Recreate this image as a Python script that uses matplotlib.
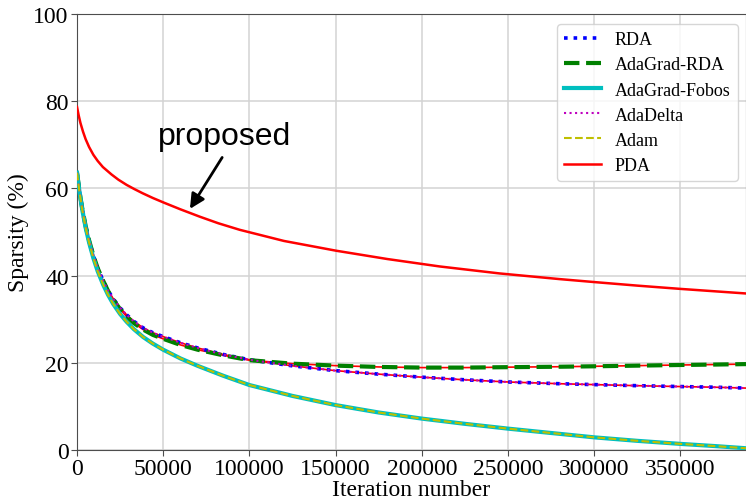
import matplotlib
matplotlib.use("Agg")
import matplotlib.pyplot as plt

iters = [0, 1500, 3000, 5000, 7000, 9500, 12000, 15200, 18000, 21000, 25000,
         28800, 33000, 38400, 44000, 50000, 60000, 70000, 85000, 100000,
         125000, 150000, 175000, 200000, 225000, 250000, 280000, 300000,
         325000, 350000, 370000, 388000]

rda = [63.6, 59.2, 55.5, 51.4, 48.1, 44.6, 41.7, 38.8, 36.6, 34.7, 32.6,
       31.0, 29.5, 28.0, 26.9, 26.0, 24.6, 23.4, 21.9, 20.7,
       19.3, 18.2, 17.4, 16.7, 16.1, 15.6, 15.2, 15.0,
       14.75, 14.55, 14.4, 14.2]
agrda = [63.6, 59.2, 55.5, 51.4, 48.1, 44.6, 41.7, 38.8, 36.5, 34.5, 32.3,
         30.6, 29.1, 27.6, 26.4, 25.5, 24.1, 23.0, 21.7, 20.6,
         19.8, 19.35, 19.05, 18.9, 18.9, 19.0, 19.1, 19.2,
         19.35, 19.5, 19.6, 19.7]
fobos = [63.6, 59.0, 55.2, 51.0, 47.6, 44.0, 41.0, 37.9, 35.6, 33.5, 31.2,
         29.4, 27.7, 25.9, 24.4, 23.0, 21.0, 19.3, 17.0, 14.9,
         12.4, 10.3, 8.6, 7.2, 6.0, 4.9, 3.7, 2.9,
         2.1, 1.4, 0.9, 0.4]

# PDA (proposed)
pda_x = [0, 1000, 2000, 3500, 5000, 7000, 9500, 12000, 15000, 20000, 24000,
         28800, 33000, 38000, 44000, 50600, 60000, 71300, 82000, 94400,
         120000, 150400, 180000, 210300, 245000, 279800, 300500, 325000,
         350000, 388000]
pda_y = [78.7, 76.7, 75.0, 73.0, 71.3, 69.5, 67.7, 66.3, 64.9, 63.2, 62.0,
         60.8, 59.9, 58.9, 57.8, 56.7, 55.2, 53.5, 52.0, 50.5,
         47.95, 45.7, 43.8, 42.1, 40.5, 39.2, 38.5, 37.7,
         36.95, 35.9]

plt.rcParams['font.family'] = ['Liberation Serif', 'DejaVu Serif']

fig = plt.figure(figsize=(7.46, 5.02), dpi=100)
ax = fig.add_axes([77 / 746, 51 / 502, 669 / 746, 436 / 502])

# thin red traces beneath the RDA curves
ax.plot(iters, rda, color='red', lw=1.2, zorder=2)
ax.plot(iters, agrda, color='red', lw=1.2, zorder=2)

ax.plot(iters, rda, color='blue', ls=':', lw=2.6, label='RDA', zorder=3)
ax.plot(iters, agrda, color='green', ls='--', lw=3, label='AdaGrad-RDA', zorder=3)
ax.plot(iters, fobos, color='c', ls='-', lw=3, label='AdaGrad-Fobos', zorder=3)
ax.plot(iters, rda, color='m', ls=':', lw=1.5, label='AdaDelta', zorder=4)
ax.plot(iters, fobos, color='y', ls='--', lw=1.5, label='Adam', zorder=4)
ax.plot(pda_x, pda_y, color='red', lw=1.8, label='PDA', zorder=4)

ax.set_xlim(0, 388000)
ax.set_ylim(0, 100)
ax.set_xticks(range(0, 350001, 50000))
ax.set_yticks(range(0, 101, 20))
ax.tick_params(labelsize=17, color='0.3', length=4, pad=2)
for s in ax.spines.values():
    s.set_color('0.3')
ax.grid(True, color='#d3d3d3', lw=1.1)
ax.set_axisbelow(True)

ax.set_xlabel('Iteration number', fontsize=17, labelpad=0)
ax.set_ylabel('Sparsity (%)', fontsize=17, labelpad=3)

ax.text(47000, 70.2, 'proposed', fontsize=23,
        family=['Liberation Sans', 'DejaVu Sans'], va='baseline', ha='left')
ax.annotate('', xy=(65500, 55.3), xytext=(84200, 67.1),
            arrowprops=dict(arrowstyle='-|>', color='black', lw=2,
                            mutation_scale=22, shrinkA=0, shrinkB=0))

ax.legend(loc='upper right', fontsize=13, framealpha=0.8, edgecolor='#cccccc',
          borderpad=0.4, labelspacing=0.45, handlelength=2.0,
          borderaxespad=0, bbox_to_anchor=(0.988, 0.977))

fig.savefig('out.png', dpi=100)
